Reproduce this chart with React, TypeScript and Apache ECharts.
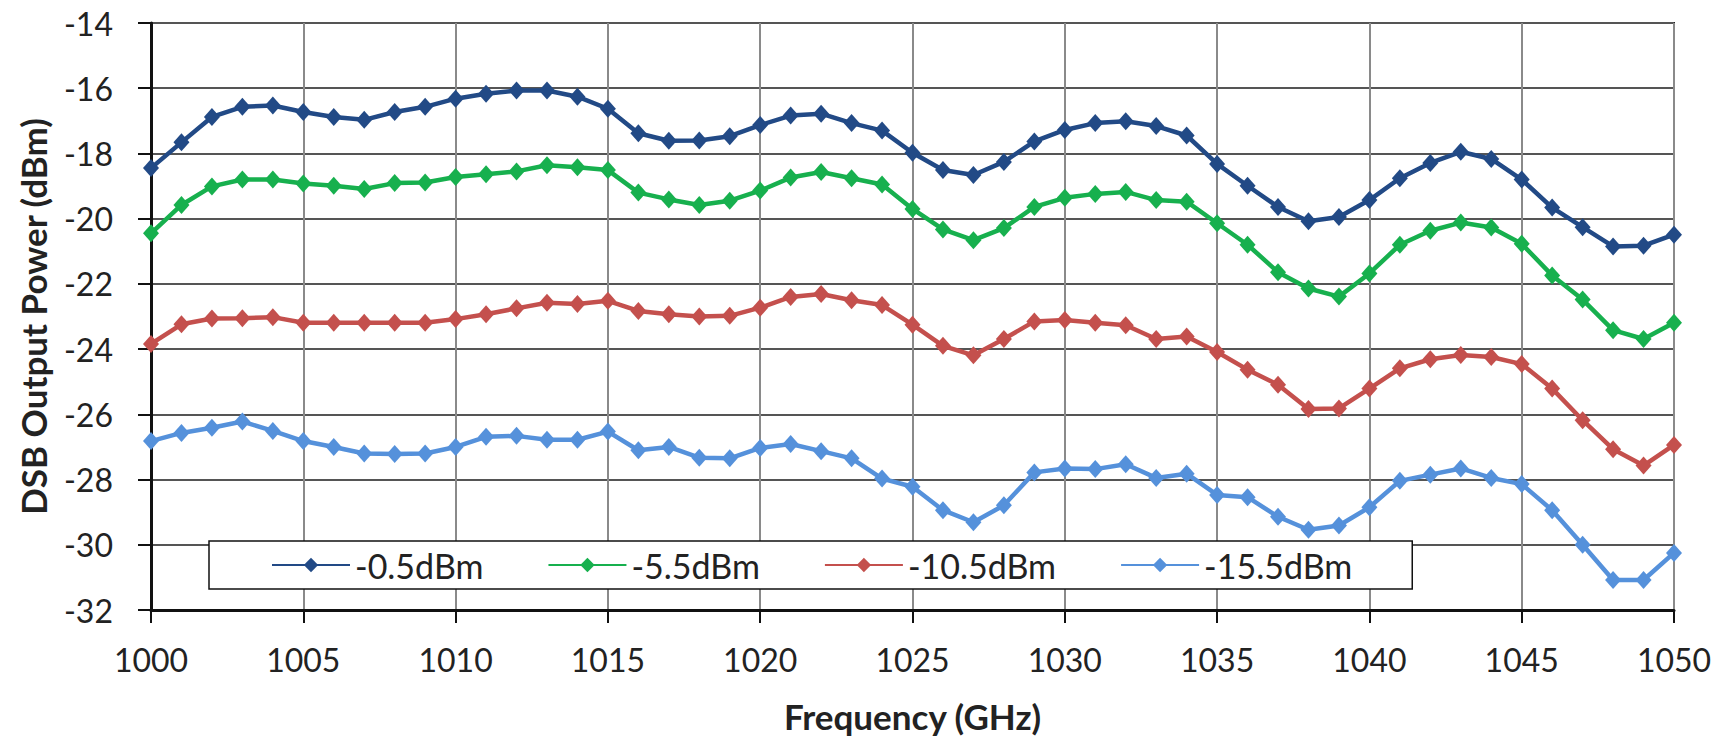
import React, { useEffect, useRef } from "react";
import * as echarts from "echarts";

const freq = [
  1000, 1001, 1002, 1003, 1004, 1005, 1006, 1007, 1008, 1009,
  1010, 1011, 1012, 1013, 1014, 1015, 1016, 1017, 1018, 1019,
  1020, 1021, 1022, 1023, 1024, 1025, 1026, 1027, 1028, 1029,
  1030, 1031, 1032, 1033, 1034, 1035, 1036, 1037, 1038, 1039,
  1040, 1041, 1042, 1043, 1044, 1045, 1046, 1047, 1048, 1049, 1050,
];

const p0_5 = [
  -18.45, -17.66, -16.88, -16.57, -16.53, -16.73, -16.88, -16.97, -16.73, -16.57,
  -16.32, -16.17, -16.07, -16.07, -16.26, -16.63, -17.38, -17.61, -17.6, -17.47,
  -17.13, -16.84, -16.78, -17.07, -17.3, -17.98, -18.51, -18.66, -18.26, -17.63,
  -17.28, -17.07, -17.01, -17.16, -17.45, -18.32, -18.99, -19.64, -20.08, -19.95,
  -19.43, -18.76, -18.29, -17.95, -18.17, -18.8, -19.66, -20.26, -20.85, -20.83, -20.49,
];

const p5_5 = [
  -20.45, -19.58, -19.01, -18.8, -18.8, -18.92, -18.99, -19.09, -18.91, -18.89,
  -18.72, -18.64, -18.55, -18.36, -18.42, -18.51, -19.2, -19.41, -19.58, -19.45,
  -19.14, -18.74, -18.57, -18.76, -18.95, -19.7, -20.33, -20.66, -20.29, -19.64,
  -19.36, -19.24, -19.18, -19.43, -19.48, -20.14, -20.8, -21.64, -22.14, -22.39,
  -21.68, -20.8, -20.37, -20.12, -20.27, -20.77, -21.74, -22.48, -23.42, -23.69, -23.19,
];

const p10_5 = [
  -23.84, -23.24, -23.06, -23.05, -23.02, -23.19, -23.19, -23.19, -23.19, -23.19,
  -23.08, -22.93, -22.75, -22.58, -22.62, -22.52, -22.83, -22.93, -23.0, -22.98,
  -22.73, -22.4, -22.31, -22.5, -22.65, -23.25, -23.9, -24.19, -23.69, -23.15,
  -23.11, -23.19, -23.27, -23.69, -23.61, -24.09, -24.63, -25.09, -25.84, -25.82,
  -25.21, -24.59, -24.31, -24.18, -24.24, -24.46, -25.21, -26.18, -27.07, -27.57, -26.94,
];

const p15_5 = [
  -26.82, -26.57, -26.41, -26.22, -26.51, -26.82, -27.0, -27.2, -27.22, -27.2,
  -27.0, -26.69, -26.66, -26.78, -26.78, -26.53, -27.1, -27.0, -27.33, -27.35,
  -27.03, -26.91, -27.13, -27.35, -27.97, -28.22, -28.94, -29.31, -28.79, -27.78,
  -27.66, -27.68, -27.53, -27.95, -27.82, -28.47, -28.54, -29.14, -29.54, -29.41,
  -28.85, -28.04, -27.85, -27.66, -27.95, -28.14, -28.94, -30.0, -31.08, -31.08, -30.25,
];

const seriesNames = ["-0.5dBm", "-5.5dBm", "-10.5dBm", "-15.5dBm"];
const seriesValues = [p0_5, p5_5, p10_5, p15_5];
const seriesColors = ["#224A86", "#17B04E", "#C4504D", "#5591DB"];

export default function App() {
  const ref = useRef<HTMLDivElement>(null);

  useEffect(() => {
    if (!ref.current) return;
    const chart = echarts.init(ref.current, undefined, { renderer: "svg" });
    const font = "Lato, 'Open Sans', sans-serif";
    chart.setOption({
      animation: false,
      backgroundColor: "#ffffff",
      textStyle: { fontFamily: font },
      grid: {
        left: 151,
        right: 48,
        top: 23,
        bottom: 125,
        show: true,
        borderColor: "#222",
        borderWidth: 2,
      },
      legend: {
        data: seriesNames,
        left: 209,
        top: 541,
        orient: "horizontal",
        itemWidth: 78,
        itemHeight: 18,
        itemGap: 64,
        backgroundColor: "#ffffff",
        borderColor: "#111",
        borderWidth: 1.5,
        borderRadius: 0,
        padding: [7, 60, 7, 62],
        textStyle: { fontSize: 34, color: "#222", fontFamily: font },
      },
      xAxis: {
        type: "value",
        min: 1000,
        max: 1050,
        interval: 5,
        name: "Frequency (GHz)",
        nameLocation: "middle",
        nameGap: 88,
        nameTextStyle: { fontSize: 35, fontWeight: "bold", color: "#222", fontFamily: font },
        axisLine: { show: true, onZero: false, lineStyle: { color: "#111", width: 3 } },
        axisTick: { show: true, length: 13, lineStyle: { color: "#111", width: 2 } },
        axisLabel: {
          fontSize: 32,
          color: "#222",
          margin: 33,
          fontFamily: font,
          formatter: (v: number) => String(v),
        },
        splitLine: { show: true, lineStyle: { color: "#8a8a8a", width: 2 } },
      },
      yAxis: {
        type: "value",
        min: -32,
        max: -14,
        interval: 2,
        name: "DSB Output Power (dBm)",
        nameLocation: "middle",
        nameGap: 101,
        nameRotate: 90,
        nameTextStyle: { fontSize: 35, fontWeight: "bold", color: "#222", fontFamily: font },
        axisLine: { show: true, onZero: false, lineStyle: { color: "#111", width: 3 } },
        axisTick: { show: true, length: 13, lineStyle: { color: "#111", width: 2 } },
        axisLabel: { fontSize: 32, color: "#222", margin: 38, fontFamily: font },
        splitLine: { show: true, lineStyle: { color: "#555", width: 2 } },
      },
      series: seriesNames.map((name, i) => ({
        name,
        type: "line",
        data: freq.map((f, j) => [f, seriesValues[i][j]]),
        symbol: "diamond",
        symbolSize: [16, 18],
        showAllSymbol: true,
        lineStyle: { color: seriesColors[i], width: 4.5 },
        itemStyle: { color: seriesColors[i] },
        emphasis: { disabled: true },
      })),
    });
    return () => chart.dispose();
  }, []);

  return (
    <div
      ref={ref}
      style={{ position: "fixed", left: 0, top: 0, width: 1722, height: 738 }}
    />
  );
}
